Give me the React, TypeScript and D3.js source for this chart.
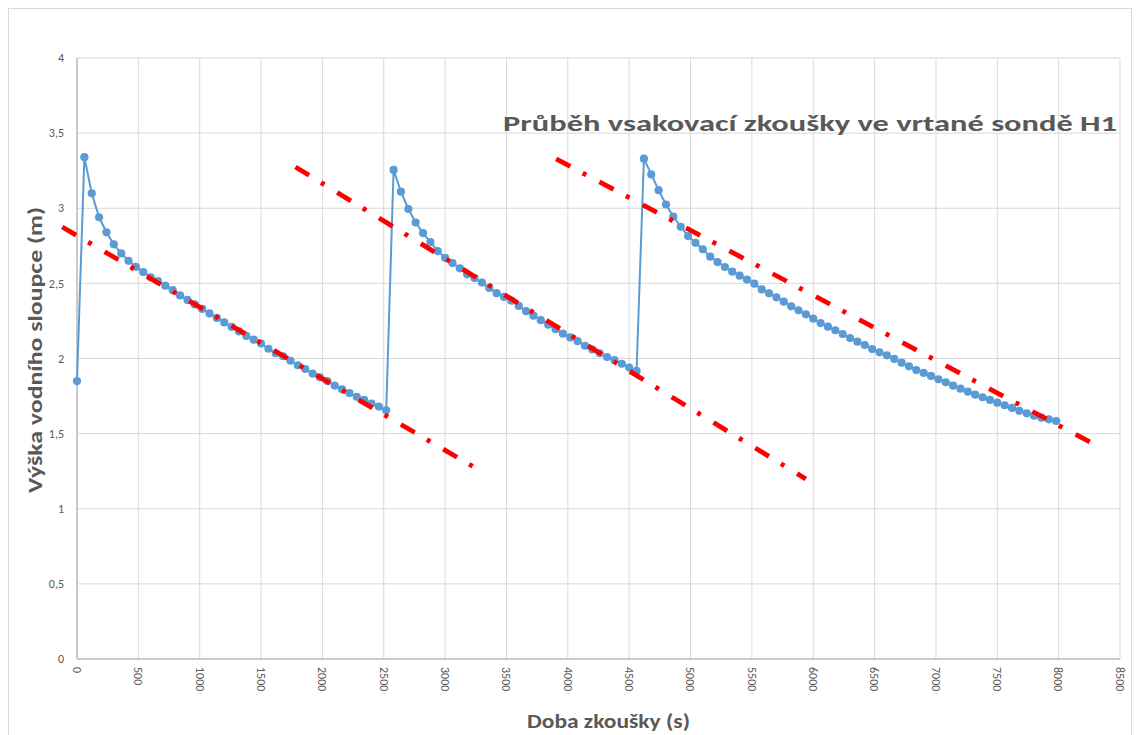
import React from "react";
import * as d3 from "d3";

// Time step of measurements (s)
const STEP = 60;
// Segment 1: initial reading at t=0, then readings from t=60 s
const seg1Start = 0;
const seg1Values = [
  1.85, 3.34, 3.1, 2.94, 2.84, 2.76, 2.7, 2.65, 2.61, 2.575, 2.54,
  2.515, 2.485, 2.455, 2.42, 2.39, 2.36, 2.33, 2.3, 2.27, 2.24,
  2.21, 2.18, 2.15, 2.125, 2.1, 2.065, 2.035, 2.015, 1.985, 1.955,
  1.93, 1.9, 1.875, 1.85, 1.82, 1.795, 1.77, 1.745, 1.725, 1.7,
  1.68, 1.655,
];
const seg2Start = 2580;
const seg2Values = [
  3.255, 3.11, 2.995, 2.905, 2.835, 2.775, 2.715, 2.67, 2.635, 2.6,
  2.56, 2.535, 2.505, 2.47, 2.435, 2.41, 2.385, 2.35, 2.315, 2.285,
  2.255, 2.225, 2.195, 2.165, 2.14, 2.115, 2.085, 2.06, 2.035, 2.01,
  1.99, 1.965, 1.94, 1.917,
];
const seg3Start = 4620;
const seg3Values = [
  3.33, 3.225, 3.12, 3.025, 2.945, 2.877, 2.815, 2.77, 2.727, 2.678,
  2.642, 2.609, 2.578, 2.551, 2.525, 2.498, 2.46, 2.434, 2.407, 2.378,
  2.347, 2.321, 2.294, 2.265, 2.236, 2.212, 2.188, 2.163, 2.136, 2.112,
  2.09, 2.063, 2.041, 2.021, 1.997, 1.972, 1.948, 1.923, 1.904, 1.884,
  1.862, 1.842, 1.819, 1.799, 1.779, 1.759, 1.742, 1.724, 1.706, 1.689,
  1.671, 1.652, 1.635, 1.619, 1.606, 1.595, 1.584,
];

// Trend lines (dash-dot red): [t0, h0, t1, h1]
const trendLines = [
  [-120, 2.875, 3240, 1.275],
  [1780, 3.275, 5940, 1.198],
  [3905, 3.328, 8255, 1.444],
];

const xTicks = [0, 500, 1000, 1500, 2000, 2500, 3000, 3500, 4000, 4500, 5000, 5500, 6000, 6500, 7000, 7500, 8000, 8500];
const yTicks = [0, 0.5, 1, 1.5, 2, 2.5, 3, 3.5, 4];

const title = "Průběh vsakovací zkoušky ve vrtané sondě H1";
const xTitle = "Doba zkoušky (s)";
const yTitle = "Výška vodního sloupce (m)";

type P = { t: number; h: number };

function buildSeries(): P[] {
  const pts: P[] = [];
  seg1Values.forEach((h, i) => pts.push({ t: seg1Start + i * STEP, h }));
  seg2Values.forEach((h, i) => pts.push({ t: seg2Start + i * STEP, h }));
  seg3Values.forEach((h, i) => pts.push({ t: seg3Start + i * STEP, h }));
  return pts;
}

export default function App() {
  const W = 1140, H = 735;
  const x = d3.scaleLinear().domain([0, 8500]).range([77, 1120]);
  const y = d3.scaleLinear().domain([0, 4]).range([659, 58]);
  const data = buildSeries();
  const line = d3.line<P>().x((d) => x(d.t)).y((d) => y(d.h));
  const fmt = (v: number) => String(v).replace(".", ",");
  const font = "Calibri, Carlito, 'Open Sans', 'Liberation Sans', sans-serif";
  const gray = "#595959";

  return (
    <svg width={W} height={H} style={{ position: "absolute", left: 0, top: 0, background: "#fff" }} fontFamily={font}>
      <rect x={8.5} y={8.5} width={1123} height={740} fill="#fff" stroke="#d9d9d9" />
      {/* grid */}
      {yTicks.map((v) => (
        <line key={"gy" + v} x1={x(0)} x2={x(8500)} y1={y(v)} y2={y(v)} stroke="#d9d9d9" strokeWidth={1} />
      ))}
      {xTicks.map((v) => (
        <line key={"gx" + v} x1={x(v)} x2={x(v)} y1={y(0)} y2={y(4)} stroke="#d9d9d9" strokeWidth={1} />
      ))}
      {/* axes */}
      <line x1={x(0)} x2={x(0)} y1={y(0)} y2={y(4)} stroke="#bfbfbf" strokeWidth={1.5} />
      <line x1={x(0)} x2={x(8500)} y1={y(0)} y2={y(0)} stroke="#bfbfbf" strokeWidth={1.5} />
      {/* y tick labels */}
      {yTicks.map((v) => (
        <text key={"ty" + v} x={64} y={y(v)} dy="0.35em" textAnchor="end" fontSize={12} fill={gray}>
          {fmt(v)}
        </text>
      ))}
      {/* x tick labels rotated */}
      {xTicks.map((v) => (
        <text
          key={"tx" + v}
          transform={`translate(${x(v)},${667}) rotate(90)`}
          dy="0.35em"
          textAnchor="start"
          fontSize={12}
          fill={gray}
        >
          {v}
        </text>
      ))}
      {/* data */}
      <path d={line(data) || ""} fill="none" stroke="#5b9bd5" strokeWidth={2} />
      {data.map((d, i) => (
        <circle key={"c" + i} cx={x(d.t)} cy={y(d.h)} r={4.1} fill="#5b9bd5" />
      ))}
      {/* trend lines */}
      {trendLines.map((l, i) => (
        <line
          key={"tl" + i}
          x1={x(l[0])}
          y1={y(l[1])}
          x2={x(l[2])}
          y2={y(l[3])}
          stroke="#ff0000"
          strokeWidth={4.8}
          strokeDasharray="16 14 4 15"
        />
      ))}
      {/* titles */}
      <text x={503} y={131} fontSize={23} fontWeight="bold" fill={gray} textLength={614} lengthAdjust="spacingAndGlyphs">
        {title}
      </text>
      <text x={527} y={728} fontSize={20} fontWeight="bold" fill={gray} textLength={163} lengthAdjust="spacingAndGlyphs">
        {xTitle}
      </text>
      <text
        transform={`translate(42,493) rotate(-90)`}
        fontSize={20}
        fontWeight="bold"
        fill={gray}
        textLength={286}
        lengthAdjust="spacingAndGlyphs"
      >
        {yTitle}
      </text>
    </svg>
  );
}
